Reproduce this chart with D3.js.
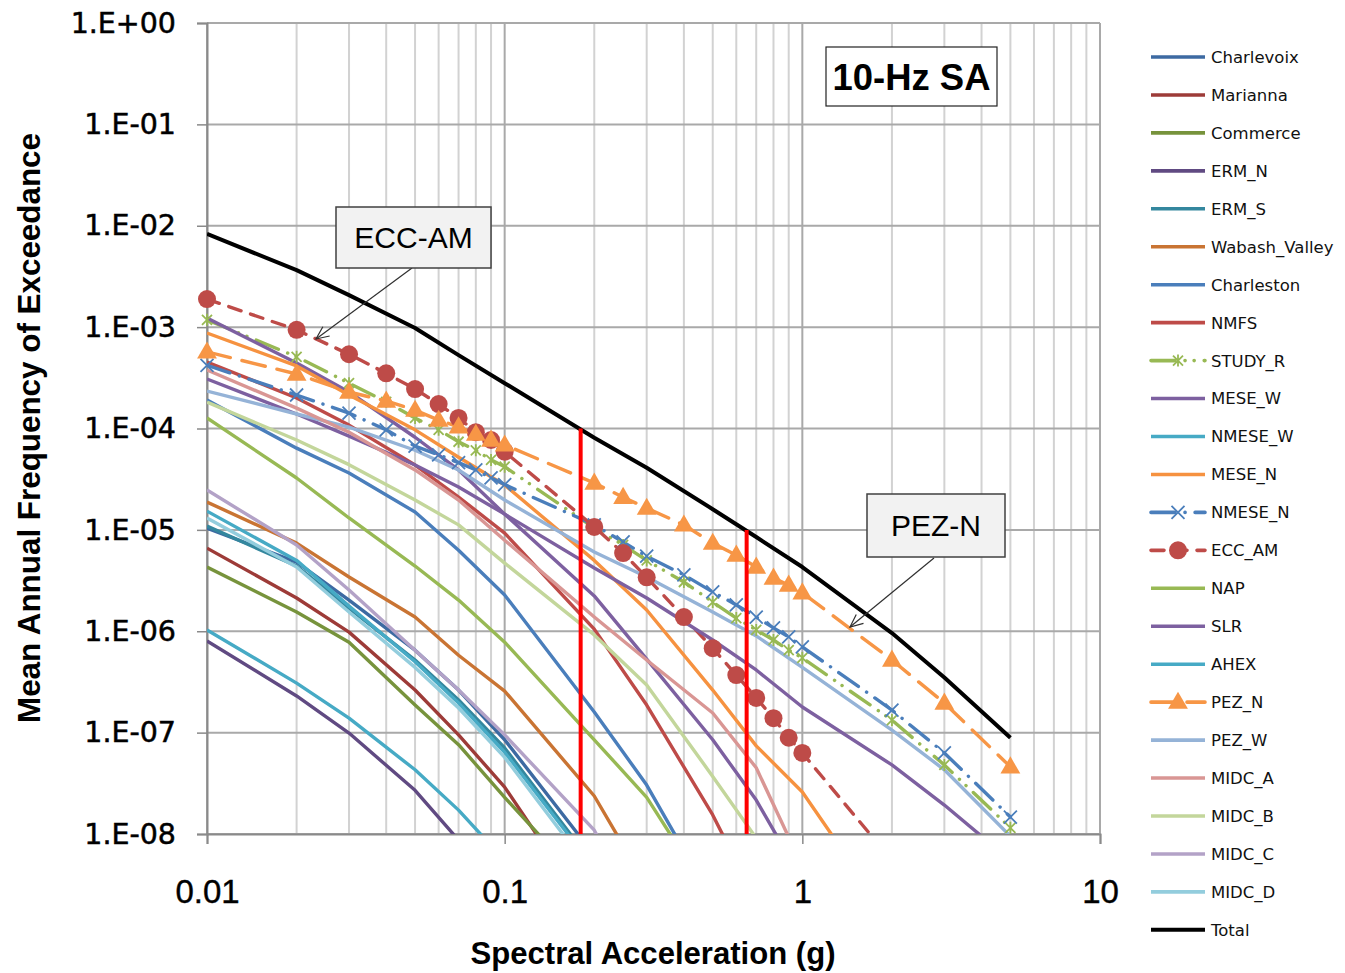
<!DOCTYPE html>
<html><head><meta charset="utf-8">
<script src="https://cdn.jsdelivr.net/npm/d3@7"></script>
<style>body{margin:0;background:#fff}svg{display:block}</style>
</head><body>
<svg id="chart" width="1345" height="973"></svg>
<script>
// ---------- data ----------
const saFine   = [0.01,0.02,0.03,0.04,0.05,0.06,0.07,0.08,0.09,0.1,0.2,0.25,0.3,0.4,0.5,0.6,0.7,0.8,0.9,1,2,3,5];
const saCoarse = [0.01,0.02,0.03,0.05,0.07,0.1,0.2,0.3,0.5,0.7,1,2,3,5];

const yTickValues = [1,1e-1,1e-2,1e-3,1e-4,1e-5,1e-6,1e-7,1e-8];
const yTickLabels = ["1.E+00","1.E-01","1.E-02","1.E-03","1.E-04","1.E-05","1.E-06","1.E-07","1.E-08"];
const xTickValues = [0.01,0.1,1,10];
const xTickLabels = ["0.01","0.1","1","10"];

// coarse-grid series
const charlevoix   = [1.04e-5,4.8e-6,2.03e-6,6.5e-7,2.63e-7,8.5e-8,6.2e-9,null,null,null,null,null,null,null];
const marianna     = [6.6e-6,2.13e-6,9.8e-7,2.63e-7,9.5e-8,2.9e-8,1.42e-9,null,null,null,null,null,null,null];
const commerce     = [4.3e-6,1.55e-6,7.8e-7,1.87e-7,7.6e-8,2.3e-8,2.5e-9,null,null,null,null,null,null,null];
const ermN         = [8.0e-7,2.3e-7,9.9e-8,2.7e-8,8.7e-9,2.2e-9,null,null,null,null,null,null,null,null];
const ermS         = [1.09e-5,4.4e-6,1.69e-6,5.2e-7,2.1e-7,7.05e-8,4.9e-9,null,null,null,null,null,null,null];
const wabashValley = [1.88e-5,7.4e-6,3.43e-6,1.38e-6,5.8e-7,2.57e-7,2.37e-8,3.1e-9,null,null,null,null,null,null];
const charleston   = [1.91e-4,6.4e-5,3.64e-5,1.5e-5,6.3e-6,2.28e-6,1.6e-7,3.04e-8,2.2e-9,null,null,null,null,null];
const nmfs         = [4.53e-4,2.0e-4,1.08e-4,4.36e-5,2.11e-5,9.3e-6,1.05e-6,1.87e-7,1.54e-8,2.2e-9,null,null,null,null];
const meseW        = [1.23e-3,4.43e-4,2.29e-4,8.2e-5,3.9e-5,1.43e-5,2.23e-6,5.3e-7,8.5e-8,2.16e-8,3.5e-9,null,null,null];
const nmeseW       = [1.53e-5,5.0e-6,1.77e-6,5.0e-7,1.96e-7,6.4e-8,4.6e-9,null,null,null,null,null,null,null];
const meseN        = [8.75e-4,4.14e-4,2.14e-4,9.7e-5,5.2e-5,2.77e-5,5.0e-6,1.62e-6,2.63e-7,7.4e-8,2.6e-8,1.35e-9,null,null];
const nap          = [1.27e-4,3.25e-5,1.31e-5,4.4e-6,2.03e-6,7.8e-7,8.5e-8,2.3e-8,2.2e-9,null,null,null,null,null];
const slr          = [3.08e-4,1.39e-4,8.4e-5,4.36e-5,2.65e-5,1.43e-5,4.2e-6,2.13e-6,8.2e-7,4.15e-7,1.79e-7,4.8e-8,1.93e-8,5.5e-9];
const ahex         = [1.03e-6,3.08e-7,1.39e-7,4.3e-8,1.72e-8,5.5e-9,null,null,null,null,null,null,null,null];
const pezW         = [2.34e-4,1.39e-4,1.03e-4,6.1e-5,3.9e-5,1.97e-5,6.05e-6,3.43e-6,1.55e-6,9.0e-7,4.4e-7,1.06e-7,4.3e-8,9.5e-9];
const midcA        = [3.78e-4,1.59e-4,9.2e-5,3.9e-5,1.97e-5,7.9e-6,1.38e-6,5.2e-7,1.56e-7,4.5e-8,4.8e-9,null,null,null];
const midcB        = [1.82e-4,7.7e-5,4.4e-5,1.97e-5,1.12e-5,4.7e-6,9.2e-7,2.95e-7,3.7e-8,9.1e-9,null,null,null,null];
const midcC        = [2.47e-5,7.1e-6,2.55e-6,6.5e-7,2.63e-7,9.5e-8,1.09e-8,1.13e-9,null,null,null,null,null,null];
const midcD        = [1.31e-5,4.3e-6,1.55e-6,4.4e-7,1.75e-7,5.7e-8,3.9e-9,null,null,null,null,null,null,null];
const total        = [8.3e-3,3.65e-3,2.07e-3,9.8e-4,5.3e-4,2.8e-4,8.1e-5,4.1e-5,1.6e-5,8.5e-6,4.3e-6,9.6e-7,3.5e-7,8.9e-8];

// fine-grid (marker) series
const studyR = [1.18e-3,5.1e-4,2.8e-4,1.83e-4,1.27e-4,9.7e-5,7.4e-5,6.1e-5,4.9e-5,4.2e-5,1.04e-5,7.1e-6,5.0e-6,3.06e-6,1.94e-6,1.35e-6,1.03e-6,8.2e-7,6.5e-7,5.45e-7,1.33e-7,4.8e-8,1.15e-8];
const nmeseN = [4.2e-4,2.14e-4,1.42e-4,9.7e-5,6.7e-5,5.5e-5,4.6e-5,3.9e-5,3.25e-5,2.8e-5,1.12e-5,7.6e-6,5.5e-6,3.6e-6,2.44e-6,1.82e-6,1.38e-6,1.08e-6,8.8e-7,7.0e-7,1.67e-7,6.3e-8,1.47e-8];
const eccAM  = [1.89e-3,9.4e-4,5.4e-4,3.5e-4,2.45e-4,1.74e-4,1.27e-4,9.2e-5,7.7e-5,5.9e-5,1.07e-5,5.9e-6,3.4e-6,1.38e-6,6.8e-7,3.7e-7,2.2e-7,1.39e-7,8.9e-8,6.3e-8,5.5e-9,null,null];
const pezN   = [5.7e-4,3.45e-4,2.29e-4,1.87e-4,1.52e-4,1.21e-4,1.04e-4,8.8e-5,7.7e-5,6.9e-5,2.9e-5,2.1e-5,1.64e-5,1.12e-5,7.4e-6,5.65e-6,4.3e-6,3.35e-6,2.86e-6,2.4e-6,5.2e-7,1.96e-7,4.6e-8];

// vertical reference lines (SA, top frequency)
const refLineSA  = [0.18, 0.65];
const refLineTop = [1e-4, 1e-5];

// annotations
const annotationTexts = ["ECC-AM","PEZ-N"];

// ---------- chart ----------
const svg = d3.select("#chart");
const P = {left:207, right:1100, top:23, bottom:834};
const x = d3.scaleLog().domain([0.01,10]).range([P.left,P.right]);
const y = d3.scaleLog().domain([1e-8,1]).range([P.bottom,P.top]);

const series = [
  {name:"Charlevoix",    grid:saCoarse, v:charlevoix,   color:"#3d6aa2"},
  {name:"Marianna",      grid:saCoarse, v:marianna,     color:"#9d3b38"},
  {name:"Commerce",      grid:saCoarse, v:commerce,     color:"#77933c"},
  {name:"ERM_N",         grid:saCoarse, v:ermN,         color:"#604a82"},
  {name:"ERM_S",         grid:saCoarse, v:ermS,         color:"#34879e"},
  {name:"Wabash_Valley", grid:saCoarse, v:wabashValley, color:"#c97433"},
  {name:"Charleston",    grid:saCoarse, v:charleston,   color:"#4a7ebb"},
  {name:"NMFS",          grid:saCoarse, v:nmfs,         color:"#be4b48"},
  {name:"STUDY_R",       grid:saFine,   v:studyR,       color:"#98b954", dash:"24,10,0.1,9,0.1,10", marker:"star"},
  {name:"MESE_W",        grid:saCoarse, v:meseW,        color:"#7d60a0"},
  {name:"NMESE_W",       grid:saCoarse, v:nmeseW,       color:"#46aac5"},
  {name:"MESE_N",        grid:saCoarse, v:meseN,        color:"#f69240"},
  {name:"NMESE_N",       grid:saFine,   v:nmeseN,       color:"#4a7ebb", dash:"24,10,0.1,10", marker:"x"},
  {name:"ECC_AM",        grid:saFine,   v:eccAM,        color:"#be4b48", dash:"13,10", marker:"circle"},
  {name:"NAP",           grid:saCoarse, v:nap,          color:"#98b954"},
  {name:"SLR",           grid:saCoarse, v:slr,          color:"#7d60a0"},
  {name:"AHEX",          grid:saCoarse, v:ahex,         color:"#46aac5"},
  {name:"PEZ_N",         grid:saFine,   v:pezN,         color:"#f79646", dash:"24,12", marker:"triangle"},
  {name:"PEZ_W",         grid:saCoarse, v:pezW,         color:"#95b3d7"},
  {name:"MIDC_A",        grid:saCoarse, v:midcA,        color:"#d99694"},
  {name:"MIDC_B",        grid:saCoarse, v:midcB,        color:"#c3d69b"},
  {name:"MIDC_C",        grid:saCoarse, v:midcC,        color:"#b3a2c7"},
  {name:"MIDC_D",        grid:saCoarse, v:midcD,        color:"#93cddd"},
  {name:"Total",         grid:saCoarse, v:total,        color:"#000000", width:4}
];

svg.append("defs").append("clipPath").attr("id","plotClip")
  .append("rect").attr("x",P.left).attr("y",P.top)
  .attr("width",P.right-P.left).attr("height",P.bottom-P.top);

// grid
const grid = svg.append("g");
const isDecade = d => Math.abs(Math.log10(d) - Math.round(Math.log10(d))) < 1e-9;
grid.selectAll("line.v").data(x.ticks()).join("line")
  .attr("x1",d=>x(d)).attr("x2",d=>x(d)).attr("y1",P.top).attr("y2",P.bottom)
  .attr("stroke",d=>isDecade(d)?"#a9a9a9":"#d2d2d2").attr("stroke-width",2);
grid.selectAll("line.h").data(yTickValues).join("line")
  .attr("x1",P.left).attr("x2",P.right).attr("y1",d=>y(d)).attr("y2",d=>y(d))
  .attr("stroke","#a9a9a9").attr("stroke-width",2);

// axes
const yAxis = d3.axisLeft(y).tickValues(yTickValues).tickFormat((d,i)=>yTickLabels[i]).tickSize(10).tickPadding(21);
const gy = svg.append("g").attr("transform",`translate(${P.left},0)`).call(yAxis);
gy.select(".domain").attr("stroke","#8a8a8a").attr("stroke-width",2);
gy.selectAll(".tick line").attr("stroke","#8a8a8a").attr("stroke-width",1.5);
gy.selectAll(".tick text").attr("font-family","DejaVu Sans").attr("font-size",28.5).attr("fill","#000")
  .attr("stroke","#000").attr("stroke-width",0.5);

const xAxis = d3.axisBottom(x).tickValues(xTickValues).tickFormat((d,i)=>xTickLabels[i]).tickSize(10).tickPadding(36);
const gx = svg.append("g").attr("transform",`translate(0,${P.bottom})`).call(xAxis);
gx.select(".domain").attr("stroke","#8a8a8a").attr("stroke-width",2);
gx.selectAll(".tick line").attr("stroke","#8a8a8a").attr("stroke-width",1.5);
gx.selectAll(".tick text").attr("font-family","Liberation Sans").attr("font-size",33).attr("fill","#000")
  .attr("stroke","#000").attr("stroke-width",0.4);

// axis titles
svg.append("text").attr("transform","translate(40,428) rotate(-90)")
  .attr("text-anchor","middle").attr("font-family","Liberation Sans").attr("font-weight","bold")
  .attr("font-size",31).attr("textLength",590).attr("lengthAdjust","spacingAndGlyphs")
  .text("Mean Annual Frequency of Exceedance");
svg.append("text").attr("x",653).attr("y",964)
  .attr("text-anchor","middle").attr("font-family","Liberation Sans").attr("font-weight","bold")
  .attr("font-size",31).attr("textLength",365).attr("lengthAdjust","spacingAndGlyphs")
  .text("Spectral Acceleration (g)");

// markers
function drawMarker(g, type, cx, cy, color){
  if(type==="circle"){
    g.append("circle").attr("cx",cx).attr("cy",cy).attr("r",9).attr("fill",color);
  } else if(type==="triangle"){
    g.append("path").attr("transform",`translate(${cx},${cy+1})`)
      .attr("d",d3.symbol(d3.symbolTriangle,170)()).attr("fill",color);
  } else if(type==="x"){
    const s=6.5;
    g.append("path").attr("d",`M${cx-s},${cy-s}L${cx+s},${cy+s}M${cx-s},${cy+s}L${cx+s},${cy-s}`)
      .attr("stroke",color).attr("stroke-width",1.8).attr("fill","none");
  } else if(type==="star"){
    const s=5;
    g.append("path").attr("d",`M${cx-s},${cy-s}L${cx+s},${cy+s}M${cx-s},${cy+s}L${cx+s},${cy-s}M${cx},${cy-s-1}L${cx},${cy+s+1}`)
      .attr("stroke",color).attr("stroke-width",1.8).attr("fill","none");
  }
}

// series
const plotG = svg.append("g");
const linesG = plotG.append("g").attr("clip-path","url(#plotClip)");
series.forEach(s=>{
  const pts = s.grid.map((sa,i)=>({sa, v:s.v[i]}));
  const line = d3.line().defined(d=>d.v!=null).x(d=>x(d.sa)).y(d=>y(d.v));
  linesG.append("path").datum(pts).attr("d",line).attr("fill","none")
    .attr("stroke",s.color).attr("stroke-width",s.width||3.4)
    .attr("stroke-linejoin","round")
    .attr("stroke-linecap", s.dash ? "round" : "butt")
    .attr("stroke-dasharray", s.dash||null);
  if(s.marker){
    const mg = plotG.append("g");
    pts.filter(d=>d.v!=null && d.v>=1e-8).forEach(d=>drawMarker(mg,s.marker,x(d.sa),y(d.v),s.color));
  }
});

// red reference lines
refLineSA.forEach((sa,i)=>{
  svg.append("line").attr("x1",x(sa)).attr("x2",x(sa))
    .attr("y1",y(refLineTop[i])).attr("y2",y(1e-8))
    .attr("stroke","#ff0000").attr("stroke-width",4);
});

// annotations
function arrow(x1,y1,x2,y2){
  const a=Math.atan2(y2-y1,x2-x1), L=14, w=0.42;
  svg.append("line").attr("x1",x1).attr("y1",y1).attr("x2",x2).attr("y2",y2)
    .attr("stroke","#303030").attr("stroke-width",1.2);
  svg.append("path").attr("d",`M${x2-L*Math.cos(a-w)},${y2-L*Math.sin(a-w)}L${x2},${y2}L${x2-L*Math.cos(a+w)},${y2-L*Math.sin(a+w)}`)
    .attr("stroke","#303030").attr("stroke-width",1.2).attr("fill","none");
}
function box(x0,y0,w,h,text,opts){
  svg.append("rect").attr("x",x0).attr("y",y0).attr("width",w).attr("height",h)
    .attr("fill",opts.fill).attr("stroke",opts.stroke).attr("stroke-width",opts.sw);
  const t = svg.append("text").attr("x",x0+w/2).attr("y",y0+h/2).attr("dy","0.36em")
    .attr("text-anchor","middle").attr("font-family","Liberation Sans")
    .attr("font-size",opts.size).attr("font-weight",opts.bold?"bold":"normal").text(text);
  if(opts.len) t.attr("textLength",opts.len).attr("lengthAdjust","spacingAndGlyphs");
}
arrow(412,268,316,339);
arrow(934,558,850,627);
box(336,207,155,61,annotationTexts[0],{fill:"#f2f2f2",stroke:"#404040",sw:1.5,size:30});
box(867,494,138,63,annotationTexts[1],{fill:"#f2f2f2",stroke:"#404040",sw:1.5,size:30});
box(826,47,171,59,"10-Hz SA",{fill:"#ffffff",stroke:"#222",sw:1.2,size:37,bold:true,len:158});

// legend
const leg = svg.append("g");
series.forEach((s,i)=>{
  const ly = 57 + i*37.95;
  const g = leg.append("g");
  g.append("line").attr("x1",1151).attr("x2",1205).attr("y1",ly).attr("y2",ly)
    .attr("stroke",s.color).attr("stroke-width",s.width||3.6)
    .attr("stroke-linecap", s.dash ? "round" : "butt")
    .attr("stroke-dasharray", s.dash||null);
  if(s.marker) drawMarker(g,s.marker,1178,ly,s.color);
  g.append("text").attr("x",1211).attr("y",ly).attr("dy","0.36em")
    .attr("font-family","DejaVu Sans").attr("font-size",16.5).attr("fill","#111").text(s.name);
});
</script>
</body></html>
